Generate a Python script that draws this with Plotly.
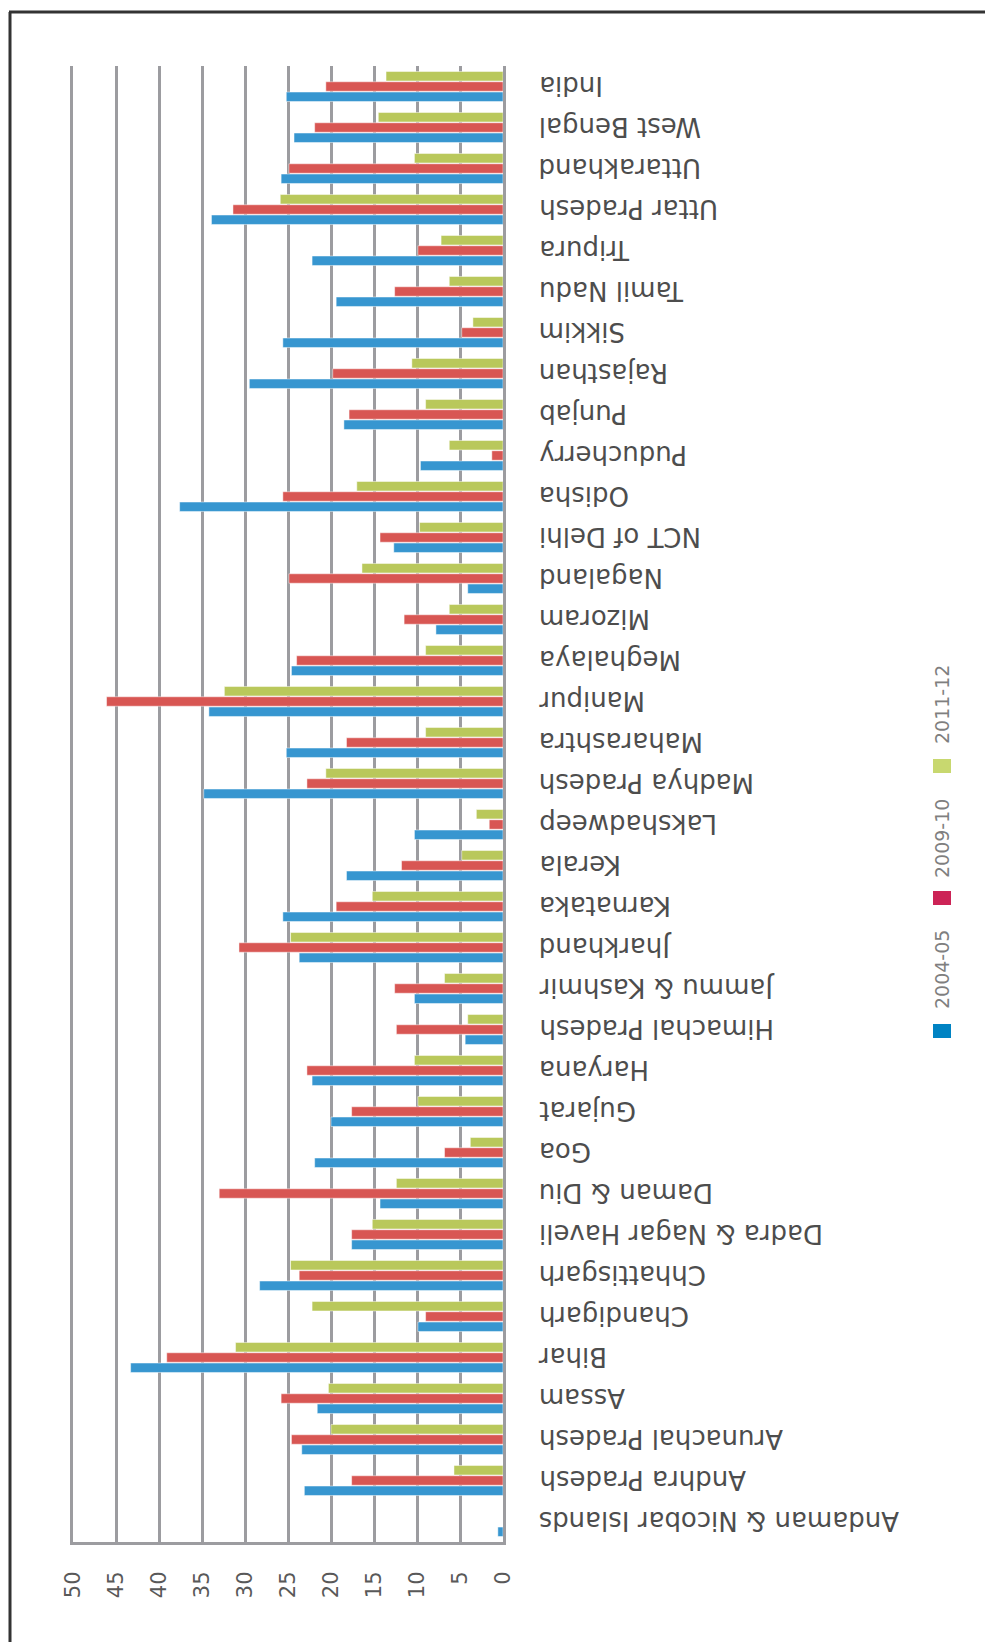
import plotly.graph_objects as go

states = ["Andaman & Nicobar Islands", "Andhra Pradesh", "Arunachal Pradesh", "Assam", "Bihar",
          "Chandigarh", "Chhattisgarh", "Dadra & Nagar Haveli", "Daman & Diu", "Goa", "Gujarat",
          "Haryana", "Himachal Pradesh", "Jammu & Kashmir", "Jharkhand", "Karnataka", "Kerala",
          "Lakshadweep", "Madhya Pradesh", "Maharashtra", "Manipur", "Meghalaya", "Mizoram",
          "Nagaland", "NCT of Delhi", "Odisha", "Puducherry", "Punjab", "Rajasthan", "Sikkim",
          "Tamil Nadu", "Tripura", "Uttar Pradesh", "Uttarakhand", "West Bengal", "India"]

v2004_05 = [0.6, 23.1, 23.4, 21.6, 43.3, 9.9, 28.3, 17.6, 14.3, 21.9, 20.0, 22.2, 4.4, 10.3, 23.7,
            25.6, 18.2, 10.3, 34.8, 25.2, 34.2, 24.6, 7.8, 4.1, 12.7, 37.6, 9.6, 18.5, 29.5, 25.6,
            19.4, 22.2, 33.9, 25.8, 24.3, 25.2]
v2009_10 = [0.0, 17.6, 24.6, 25.8, 39.1, 9.0, 23.7, 17.6, 33.0, 6.8, 17.6, 22.8, 12.4, 12.6, 30.7,
            19.4, 11.8, 1.6, 22.8, 18.2, 46.1, 24.0, 11.5, 24.9, 14.3, 25.6, 1.3, 17.9, 19.8, 4.8,
            12.6, 9.9, 31.4, 24.9, 21.9, 20.6]
v2011_12 = [0.0, 5.7, 20.0, 20.3, 31.1, 22.2, 24.7, 15.2, 12.4, 3.8, 9.9, 10.3, 4.1, 6.8, 24.7,
            15.2, 4.8, 3.1, 20.6, 9.0, 32.4, 9.0, 6.25, 16.4, 9.7, 17.0, 6.25, 9.0, 10.6, 3.5,
            6.25, 7.2, 25.9, 10.3, 14.5, 13.6]

series_names = ["2004-05", "2009-10", "2011-12"]
bar_colors = ["#3796d0", "#d85653", "#b9c85b"]
legend_colors = ["#0083c3", "#cc2356", "#c8d86f"]
value_ticks = [0, 5, 10, 15, 20, 25, 30, 35, 40, 45, 50]

W, H = 993, 1642
OFF = 8  # page body margin
L, R = 73 - OFF, W - (503 - OFF)
T, B = 66 - OFF, H - (1542 - OFF)
PW, PH = W - L - R, H - T - B


def px(x):
    """screen x (pixels) -> paper x"""
    return (x - OFF - L) / PW


def py(y):
    """screen y (pixels) -> paper y"""
    return (H - B - (y - OFF)) / PH


fig = go.Figure()
for name, vals, col in zip(series_names, [v2004_05, v2009_10, v2011_12], bar_colors):
    fig.add_trace(go.Bar(x=vals, y=states, orientation="h", name=name,
                         marker=dict(color=col, line=dict(color="rgba(255,255,255,0.6)", width=0.8)),
                         showlegend=False))

grid_col = "#9c9ca0"
fig.update_layout(
    width=W, height=H,
    margin=dict(l=L, r=R, t=T, b=B),
    paper_bgcolor="white", plot_bgcolor="white",
    barmode="group", bargap=0.25, bargroupgap=0.08,
    font=dict(family="DejaVu Sans", color="#4d4d4d"),
)
fig.update_xaxes(
    range=[50, 0], tickvals=value_ticks, ticktext=[str(v) for v in value_ticks],
    tickangle=-90, tickfont=dict(size=21, color="#595959", family="DejaVu Sans"),
    showgrid=True, gridcolor=grid_col, gridwidth=3,
    zeroline=False,
    showline=True, linecolor=grid_col, linewidth=3,
    ticks="", ticklabelstandoff=18,
)
fig.update_yaxes(
    side="right", range=[-0.5, len(states) - 0.5],
    showticklabels=False,
    showgrid=False, zeroline=False, showline=True, mirror=True,
    linecolor=grid_col, linewidth=3, ticks="",
)

# category labels, upside down as in the reference
for s in states:
    fig.add_annotation(xref="paper", yref="y", x=px(537), y=s, text=s, textangle=180,
                       showarrow=False, xanchor="left", yanchor="middle",
                       font=dict(size=26, color="#4d4d4d", family="DejaVu Sans"))

# legend (rotated text, as in the reference)
leg_text_y = [970, 839, 705]
leg_sq_y = [1031, 898, 766]
for name, col, ty, sy in zip(series_names, legend_colors, leg_text_y, leg_sq_y):
    fig.add_shape(type="rect", xref="paper", yref="paper",
                  x0=px(933), x1=px(951), y0=py(sy - 7), y1=py(sy + 7),
                  fillcolor=col, line=dict(width=0))
    fig.add_annotation(xref="paper", yref="paper", x=px(942), y=py(ty), text=name,
                       textangle=-90, showarrow=False, xanchor="center", yanchor="middle",
                       font=dict(size=19, color="#7f7f7f", family="DejaVu Sans"))

# outer frame lines
fig.add_shape(type="line", xref="paper", yref="paper", x0=px(9), x1=px(W + 10), y0=py(12), y1=py(12),
              line=dict(color="#333333", width=3))
fig.add_shape(type="line", xref="paper", yref="paper", x0=px(10), x1=px(10), y0=py(12), y1=py(H + 10),
              line=dict(color="#333333", width=3))

fig.write_html("out.html")
